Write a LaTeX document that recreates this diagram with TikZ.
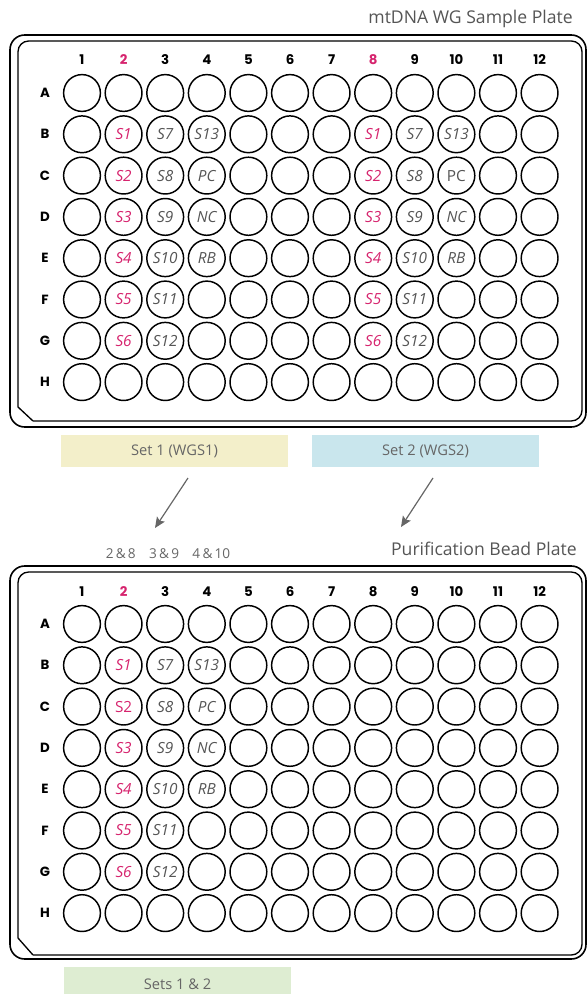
\documentclass[tikz,border=0pt]{standalone}
\usepackage{fontspec}
\setmainfont{Open Sans}
\newfontfamily\hdfont{Poppins}
\usetikzlibrary{arrows.meta}
\definecolor{mag}{HTML}{D6246E}
\definecolor{txt}{HTML}{555555}
\definecolor{settxt}{HTML}{666666}
\definecolor{setone}{HTML}{F3EFCA}
\definecolor{settwo}{HTML}{C9E6ED}
\definecolor{setboth}{HTML}{DEEDD2}
\tikzset{
  well/.style={circle, draw=black, line width=1.1pt, minimum size=27.6pt, inner sep=0pt},
  colhd/.style={font=\hdfont\bfseries\fontsize{10}{12}\selectfont, inner sep=0pt},
  rowhd/.style={font=\hdfont\bfseries\fontsize{10}{12}\selectfont, inner sep=0pt},
  smag/.style={text=mag, font=\itshape\fontsize{11.5}{13}\selectfont, inner sep=0pt},
  sgray/.style={text=txt, font=\itshape\fontsize{11.5}{13}\selectfont, inner sep=0pt},
  smagup/.style={text=mag, font=\fontsize{11.5}{13}\selectfont, inner sep=0pt},
  sgrayup/.style={text=txt, font=\fontsize{11.5}{13}\selectfont, inner sep=0pt},
  platetitle/.style={text=txt, font=\fontsize{13.2}{15}\selectfont, inner sep=0pt, anchor=east},
  setbox/.style={minimum width=170.25pt, minimum height=24pt, inner sep=0pt, text=settxt, font=\fontsize{11}{13}\selectfont},
  plateout/.style={draw=black, line width=1.2pt, rounded corners=11pt},
  platein/.style={draw=black, line width=1pt},
  arr/.style={draw=settxt, line width=0.9pt, -{Stealth[length=8pt, width=7pt, inset=1.5pt]}},
  small/.style={text=settxt, font=\fontsize{10.2}{12}\selectfont, inner sep=0pt}
}
\begin{document}
\begin{tikzpicture}[x=0.75pt, y=-0.75pt]
\path[use as bounding box] (0,0) rectangle (587,994);

% ---------- top plate ----------
\node[platetitle] (title1) at (573,19) {mtDNA WG Sample Plate};
\draw[plateout] (10,35) rectangle (586,427);
\draw[platein] (33,421) -- (18,407) [rounded corners=8pt] -- (18,41) -- (582,41) -- (582,421) -- (33,421);
\foreach \c/\cc in {1/black,2/mag,3/black,4/black,5/black,6/black,7/black,8/mag,9/black,10/black,11/black,12/black}
  \node[colhd, text=\cc] (t-col-\c) at ({82+41.6*(\c-1)}, 60) {\c};
\foreach \r [count=\j from 0] in {A,B,C,D,E,F,G,H} {
  \node[rowhd] (t-row-\r) at (45, {93+41.3*\j}) {\r};
  \foreach \c in {1,...,12}
    \node[well] (t-\r-\c) at ({82+41.6*(\c-1)}, {93+41.3*\j}) {};
}
\foreach \r/\c/\t/\st in {
  B/2/S1/smag, C/2/S2/smag, D/2/S3/smag, E/2/S4/smag, F/2/S5/smag, G/2/S6/smag,
  B/3/S7/sgray, C/3/S8/sgray, D/3/S9/sgray, E/3/S10/sgray, F/3/S11/sgray, G/3/S12/sgray,
  B/4/S13/sgray, C/4/PC/sgray, D/4/NC/sgray, E/4/RB/sgray,
  B/8/S1/smag, C/8/S2/smag, D/8/S3/smag, E/8/S4/smag, F/8/S5/smag, G/8/S6/smag,
  B/9/S7/sgray, C/9/S8/sgray, D/9/S9/sgray, E/9/S10/sgray, F/9/S11/sgray, G/9/S12/sgray,
  B/10/S13/sgray, C/10/PC/sgrayup, D/10/NC/sgray, E/10/RB/sgray}
  \node[\st] (t-lab-\r-\c) at (t-\r-\c) {\t};

% ---------- set boxes ----------
\node[setbox, fill=setone] (set1) at (174.5,451) {Set 1 (WGS1)};
\node[setbox, fill=settwo] (set2) at (425.5,451) {Set 2 (WGS2)};
\coordinate (a1s) at (188,478);
\coordinate (a1e) at (155,528);
\coordinate (a2s) at (433,478);
\coordinate (a2e) at (401,527);
\draw[arr] (a1s) -- (a1e);
\draw[arr] (a2s) -- (a2e);
\node[small] (pairs) at (168,554) {2\,\&\,8\hspace{10pt}3\,\&\,9\hspace{10pt}4\,\&\,10};

% ---------- bottom plate ----------
\begin{scope}[shift={(0,531)}]
\node[platetitle] (title2) at (577,18) {Purification Bead Plate};
\draw[plateout] (10,35) rectangle (586,428);
\draw[platein] (33,424) -- (18,407) [rounded corners=8pt] -- (18,41) -- (582,41) -- (582,424) -- (33,424);
\foreach \c/\cc in {1/black,2/mag,3/black,4/black,5/black,6/black,7/black,8/black,9/black,10/black,11/black,12/black}
  \node[colhd, text=\cc] (b-col-\c) at ({82+41.6*(\c-1)}, 61) {\c};
\foreach \r [count=\j from 0] in {A,B,C,D,E,F,G,H} {
  \node[rowhd] (b-row-\r) at (45, {93+41.3*\j}) {\r};
  \foreach \c in {1,...,12}
    \node[well] (b-\r-\c) at ({82+41.6*(\c-1)}, {93+41.3*\j}) {};
}
\foreach \r/\c/\t/\st in {
  B/2/S1/smag, C/2/S2/smagup, D/2/S3/smag, E/2/S4/smag, F/2/S5/smag, G/2/S6/smag,
  B/3/S7/sgray, C/3/S8/sgray, D/3/S9/sgray, E/3/S10/sgray, F/3/S11/sgray, G/3/S12/sgray,
  B/4/S13/sgray, C/4/PC/sgray, D/4/NC/sgray, E/4/RB/sgray}
  \node[\st] (b-lab-\r-\c) at (b-\r-\c) {\t};
\end{scope}

\node[setbox, fill=setboth, minimum height=27pt, anchor=north] (set12) at (177.5,967) {};
\node[text=settxt, font=\fontsize{11}{13}\selectfont, inner sep=0pt] (set12t) at (177.5,984) {Sets 1 \& 2};
\end{tikzpicture}
\end{document}
